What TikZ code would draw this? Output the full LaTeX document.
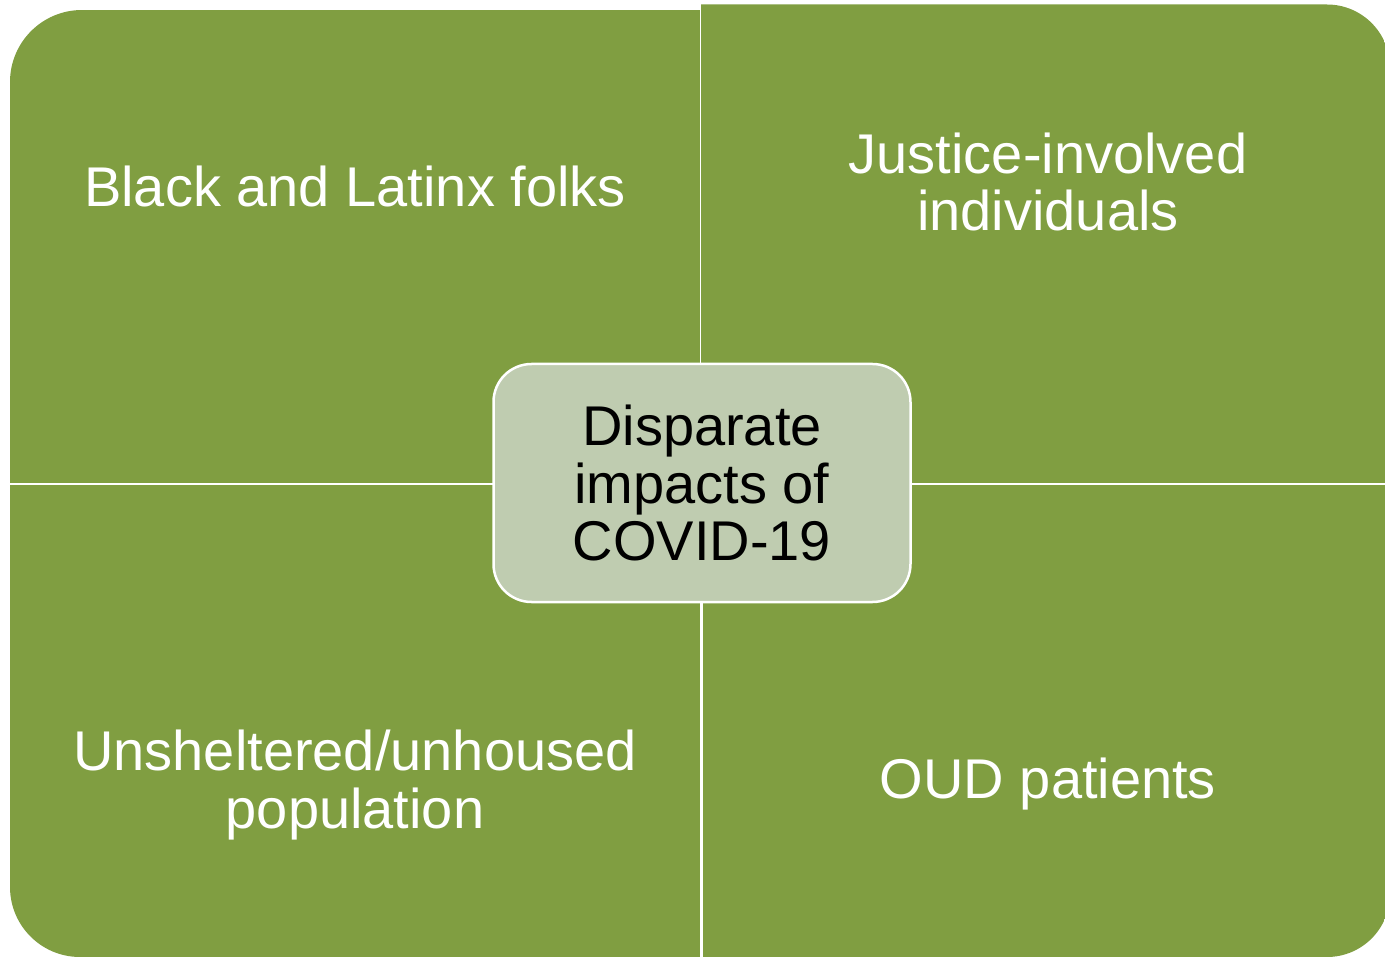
\documentclass[tikz,border=0pt]{standalone}
\usepackage{fontspec}
\setmainfont{Liberation Sans}
\usepackage{tikz}
\definecolor{matrixgreen}{RGB}{128,158,65}
\definecolor{hubsage}{RGB}{191,204,176}
\newcommand\quadfont{\fontsize{56}{57.5}\selectfont}

\begin{document}
\begin{tikzpicture}[
      x=1pt, y=-1pt,
      quad/.style={fill=matrixgreen},
      quadtext/.style={align=center, text=white, font=\quadfont},
      hub/.style={rectangle, rounded corners=38pt, draw=white, line width=2.5pt,
        fill=hubsage, minimum width=417pt, minimum height=238pt,
        align=center, text=black, font=\quadfont},
    ]
    \useasboundingbox (0,0) rectangle (1385,957);

    % four tiles, each with only its outer corner rounded
    \begin{scope}
      \clip[rounded corners=72pt] (10,10) rectangle (900,700);
      \fill[quad] (10,10) rectangle (700,483);
    \end{scope}
    \begin{scope}
      \clip[rounded corners=63pt] (500,4.5) rectangle (1390,700);
      \fill[quad] (701,4.5) rectangle (1390,483);
    \end{scope}
    \begin{scope}
      \clip[rounded corners=70pt] (10,300) rectangle (900,957);
      \fill[quad] (10,485.5) rectangle (700,957);
    \end{scope}
    \begin{scope}
      \clip[rounded corners=63pt] (500,300) rectangle (1390,957);
      \fill[quad] (703,485.5) rectangle (1390,957);
    \end{scope}

    \node[quadtext] (blacklatinx) at (355,186) {Black and Latinx folks};
    \node[quadtext] (justice) at (1048,182) {Justice-involved\\individuals};
    \node[quadtext] (unhoused) at (355,785) {Unsheltered/unhoused\\population};
    \node[quadtext] (oud) at (1048,784) {OUD patients};

    \node[hub] (hub) at (702,483) {Disparate\\impacts of\\COVID-19};
  \end{tikzpicture}
\end{document}
